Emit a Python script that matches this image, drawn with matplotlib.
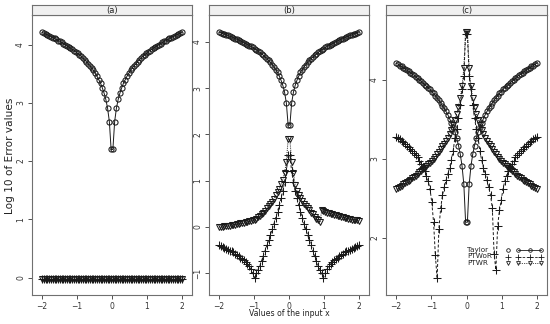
import numpy as np
import matplotlib
matplotlib.use("Agg")
import matplotlib.pyplot as plt
from matplotlib.lines import Line2D

# ---------------- data ----------------
x = np.linspace(-2, 2, 80)

taylor = [4.21, 4.20, 4.18, 4.17, 4.15, 4.14, 4.12, 4.11, 4.09, 4.07,
          4.06, 4.04, 4.02, 4.00, 3.98, 3.96, 3.94, 3.92, 3.90, 3.88,
          3.85, 3.83, 3.80, 3.77, 3.74, 3.71, 3.67, 3.64, 3.60, 3.56,
          3.51, 3.46, 3.40, 3.34, 3.26, 3.17, 3.06, 2.91, 2.68, 2.20,
          2.20, 2.68, 2.91, 3.06, 3.17, 3.26, 3.34, 3.40, 3.46, 3.51,
          3.56, 3.60, 3.64, 3.67, 3.71, 3.74, 3.77, 3.80, 3.83, 3.85,
          3.88, 3.90, 3.92, 3.94, 3.96, 3.98, 4.00, 4.02, 4.04, 4.06,
          4.07, 4.09, 4.11, 4.12, 4.14, 4.15, 4.17, 4.18, 4.20, 4.21]

ptwor_a = [-0.02] * 80
ptwr_a = [-0.02] * 80

ptwor_b = [-0.39, -0.41, -0.43, -0.45, -0.47, -0.49, -0.51, -0.53, -0.55, -0.58,
           -0.60, -0.63, -0.66, -0.69, -0.72, -0.76, -0.80, -0.85, -0.91, -0.99,
           -1.10, -1.00, -0.92, -0.84, -0.73, -0.62, -0.51, -0.40, -0.29, -0.17,
           -0.05, 0.07, 0.20, 0.33, 0.47, 0.62, 0.78, 0.97, 1.20, 1.55,
           1.55, 1.20, 0.97, 0.78, 0.62, 0.47, 0.33, 0.20, 0.07, -0.05,
           -0.17, -0.29, -0.40, -0.51, -0.62, -0.73, -0.84, -0.92, -1.00, -1.10,
           -0.99, -0.91, -0.85, -0.80, -0.76, -0.72, -0.69, -0.66, -0.63, -0.60,
           -0.58, -0.55, -0.53, -0.51, -0.49, -0.47, -0.45, -0.43, -0.41, -0.39]

ptwr_b = [0.00, 0.01, 0.01, 0.02, 0.02, 0.03, 0.03, 0.04, 0.05, 0.05,
          0.06, 0.07, 0.08, 0.08, 0.09, 0.10, 0.11, 0.12, 0.13, 0.14,
          0.16, 0.18, 0.21, 0.24, 0.27, 0.31, 0.35, 0.40, 0.45, 0.50,
          0.55, 0.61, 0.68, 0.75, 0.83, 0.92, 1.02, 1.17, 1.41, 1.89,
          1.89, 1.41, 1.17, 0.90, 0.78, 0.70, 0.62, 0.56, 0.50, 0.45,
          0.40, 0.36, 0.31, 0.27, 0.22, 0.18, 0.14, 0.10, 0.36, 0.34,
          0.33, 0.31, 0.30, 0.29, 0.27, 0.26, 0.25, 0.24, 0.23, 0.22,
          0.21, 0.20, 0.19, 0.18, 0.17, 0.16, 0.15, 0.14, 0.14, 0.13]

ptwor_c = [3.28, 3.27, 3.25, 3.23, 3.21, 3.19, 3.17, 3.15, 3.12, 3.10,
           3.08, 3.05, 3.02, 2.98, 2.94, 2.90, 2.85, 2.79, 2.72, 2.62,
           2.45, 2.20, 1.78, 1.49, 2.12, 2.38, 2.54, 2.64, 2.73, 2.81,
           2.89, 2.99, 3.10, 3.27, 3.38, 3.52, 3.68, 3.88, 4.05, 4.58,
           4.58, 4.05, 3.88, 3.68, 3.52, 3.38, 3.27, 3.10, 2.99, 2.89,
           2.81, 2.73, 2.64, 2.54, 2.38, 1.80, 1.60, 2.15, 2.35, 2.48,
           2.62, 2.72, 2.79, 2.85, 2.90, 2.94, 2.98, 3.02, 3.05, 3.08,
           3.10, 3.12, 3.15, 3.17, 3.19, 3.21, 3.23, 3.25, 3.27, 3.28]

ptwr_c = [2.62, 2.63, 2.65, 2.66, 2.68, 2.69, 2.71, 2.72, 2.74, 2.76,
          2.77, 2.79, 2.81, 2.83, 2.85, 2.87, 2.89, 2.91, 2.93, 2.95,
          2.98, 3.00, 3.03, 3.06, 3.09, 3.12, 3.16, 3.19, 3.23, 3.27,
          3.32, 3.37, 3.43, 3.49, 3.57, 3.66, 3.77, 3.92, 4.15, 4.61,
          4.61, 4.15, 3.92, 3.77, 3.66, 3.57, 3.49, 3.43, 3.37, 3.32,
          3.27, 3.23, 3.19, 3.16, 3.12, 3.09, 3.06, 3.03, 3.00, 2.98,
          2.95, 2.93, 2.91, 2.89, 2.87, 2.85, 2.83, 2.81, 2.79, 2.77,
          2.76, 2.74, 2.72, 2.71, 2.69, 2.68, 2.66, 2.65, 2.63, 2.62]

panel_titles = ["(a)", "(b)", "(c)"]
series_names = ["Taylor", "PTWoR", "PTWR"]
x_ticks = [-2, -1, 0, 1, 2]
y_ticks = [[0, 1, 2, 3, 4], [-1, 0, 1, 2, 3, 4], [2, 3, 4]]
y_limits = [(-0.30, 4.51), (-1.47, 4.58), (1.28, 4.82)]

# ---------------- figure ----------------
W, H = 550, 324
fig = plt.figure(figsize=(W / 100, H / 100), dpi=100)

def fx(px):
    return px / W

def fy(py):
    return 1 - py / H

def lab(v):
    return ("\u2212" + str(-v)) if v < 0 else str(v)

panel_px = [(32, 192), (209, 369), (386, 547)]
top_px, strip_top_px, bottom_px = 15, 5, 295
frame_col = "#707070"
ink = "#1a1a1a"

panels = [(taylor, ptwor_a, ptwr_a), (taylor, ptwor_b, ptwr_b), (taylor, ptwor_c, ptwr_c)]
styles = [
    dict(marker="o", linestyle="-", ms=3.7, mew=0.75),
    dict(marker="+", linestyle=(0, (3, 2)), ms=5.2, mew=0.75),
    dict(marker="v", linestyle=(0, (1, 1.2)), ms=4.0, mew=0.75),
]

for i, (l, r) in enumerate(panel_px):
    ax = fig.add_axes([fx(l), fy(bottom_px), fx(r - l), (bottom_px - top_px) / H])
    for data, st in zip(panels[i], styles):
        ax.plot(x, data, color=ink, lw=0.7, marker=st["marker"], linestyle=st["linestyle"],
                ms=st["ms"], mew=st["mew"], mfc="none", mec=ink)
    ax.set_xlim(-2.29, 2.29)
    ax.set_ylim(*y_limits[i])
    ax.set_xticks(x_ticks)
    ax.set_xticklabels([lab(v) for v in x_ticks])
    ax.set_yticks(y_ticks[i])
    ax.set_yticklabels([lab(v) for v in y_ticks[i]], rotation=90, va="center")
    ax.tick_params(axis="both", direction="out", length=3, width=0.6, colors="#333333",
                   labelsize=5.5, pad=2)
    ax.tick_params(top=False, right=False)
    for sp in ax.spines.values():
        sp.set_color(frame_col)
        sp.set_linewidth(0.8)
    # strip
    sax = fig.add_axes([fx(l), fy(top_px), fx(r - l), (top_px - strip_top_px) / H])
    sax.set_facecolor("#f0f0f0")
    sax.set_xticks([])
    sax.set_yticks([])
    for sp in sax.spines.values():
        sp.set_color(frame_col)
        sp.set_linewidth(0.8)
    sax.text(0.5, 0.45, panel_titles[i], ha="center", va="center", fontsize=6, color="#222222",
             transform=sax.transAxes)

# axis labels
fig.text(fx(289), fy(314), "Values of the input x", ha="center", va="center", fontsize=5.6,
         color="#222222")
fig.text(fx(10), fy(156), "Log 10 of Error values", ha="center", va="center", rotation=90,
         fontsize=7.6, color="#222222")

# legend (key) inside panel (c)
rows_y = [250, 256.5, 263]
for name, st, yy in zip(series_names, styles, rows_y):
    fig.text(fx(467), fy(yy), name, ha="left", va="center", fontsize=5.2, color="#222222")
    fig.add_artist(Line2D([fx(508)], [fy(yy)], transform=fig.transFigure, marker=st["marker"],
                          ms=st["ms"] * 0.7, mew=0.6, mfc="none", mec=ink, linestyle="none"))
    fig.add_artist(Line2D([fx(518), fx(529.5), fx(541)], [fy(yy)] * 3, transform=fig.transFigure,
                          marker=st["marker"], ms=st["ms"] * 0.7, mew=0.6, mfc="none",
                          mec=ink, color=ink, lw=0.6, linestyle=st["linestyle"]))

fig.savefig("out.png", dpi=100)
